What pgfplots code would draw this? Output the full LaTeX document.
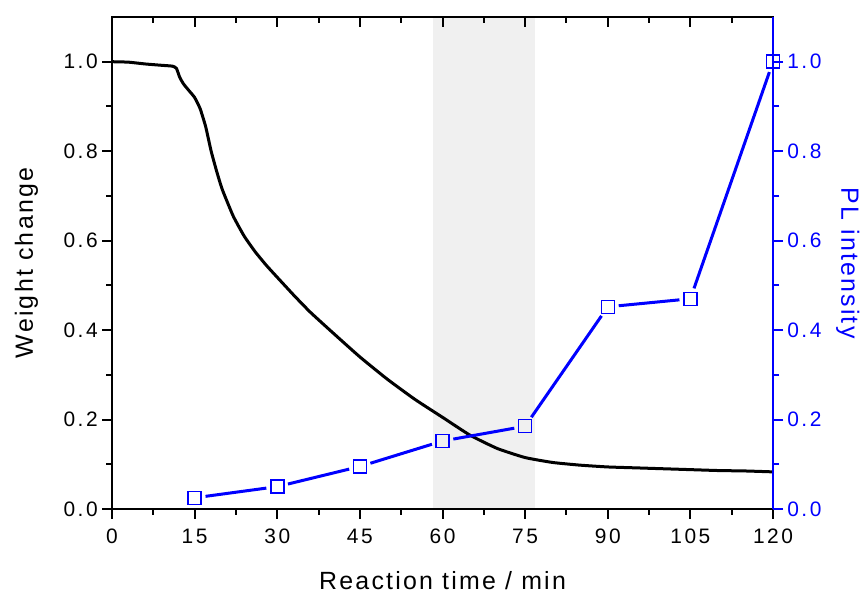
\documentclass[border=0pt]{standalone}
\usepackage{pgfplots}
\pgfplotsset{compat=1.18}
\usepackage{fontspec}
\setmainfont{Liberation Sans}
\newfontfamily\tickfont[LetterSpace=12]{Liberation Sans}
\newfontfamily\labfont[LetterSpace=9]{Liberation Sans}
\definecolor{plblue}{RGB}{0,0,255}
\definecolor{bandgray}{RGB}{240,240,240}
\begin{document}
\begin{tikzpicture}[x=1bp,y=1bp]
\path[use as bounding box] (0,0) rectangle (867,595);
\pgfplotsset{
  every axis/.append style={
    scale only axis, width=661bp, height=492bp,
    at={(112bp,86bp)}, anchor=south west,
    xmin=0, xmax=120, ymin=0, ymax=1.1,
    line width=2bp,
    every tick/.style={line width=2bp},
    major tick length=10bp, minor tick length=6bp,
    /pgf/number format/assume math mode=true,
    tick label style={font=\tickfont\fontsize{21}{24}\selectfont},
    label style={font=\labfont\fontsize{25}{28}\selectfont},
  }
}
\begin{axis}[
  axis on top,
  tick align=outside,
  xtick={0,15,...,120}, minor x tick num=1,
  ytick={0,0.2,...,1.0}, minor y tick num=1,
  xtick pos=lower, ytick pos=left,
  yticklabel style={/pgf/number format/.cd, fixed, zerofill, precision=1},
  xticklabel style={yshift=-6bp},
  xlabel={Reaction time / min}, ylabel={Weight change},
  xlabel style={yshift=-20bp},
  ylabel style={yshift=18bp},
]
\fill[bandgray] (axis cs:58.3,0) rectangle (axis cs:76.8,1.1);
\addplot[black, line width=3bp, smooth, tension=0.3] coordinates {
(0,1.0)(3,0.999)(6,0.995)(9,0.992)(11,0.99)(11.7,0.985)(12.3,0.965)(13,0.95)(14,0.935)(15,0.92)(16,0.895)(17,0.855)(18,0.80)(19,0.755)(20,0.715)(22,0.655)(24,0.61)(26,0.575)(28,0.545)(30,0.518)(33,0.478)(36,0.44)(40,0.395)(45,0.34)(50,0.29)(55,0.245)(60,0.205)(65,0.165)(70,0.135)(75,0.115)(80,0.104)(85,0.098)(90,0.094)(95,0.092)(100,0.09)(105,0.088)(110,0.086)(115,0.085)(120,0.083)
};
\end{axis}
% top ticks pointing inward
\begin{axis}[
  tick align=inside,
  xtick={0,15,...,120}, minor x tick num=1,
  xtick pos=upper, ytick=\empty,
  xticklabel=\empty,
  axis line style={draw=none},
]
\end{axis}
\begin{axis}[
  axis x line=none, axis y line*=right,
  tick align=outside,
  ytick={0,0.2,...,1.0}, minor y tick num=1,
  yticklabel style={color=plblue, /pgf/number format/.cd, fixed, zerofill, precision=1},
  ylabel={PL intensity},
  ylabel style={rotate=180, color=plblue, yshift=7bp},
  y axis line style={plblue}, every tick/.append style={plblue},
  every outer y axis line/.append style={plblue},
  clip=false,
]
\pgfplotsset{segstyle/.style={plblue, line width=3bp, shorten <=11bp, shorten >=11bp, forget plot}}
\addplot[segstyle] coordinates {(15,0.025)(30,0.05)};
\addplot[segstyle] coordinates {(30,0.05)(45,0.095)};
\addplot[segstyle] coordinates {(45,0.095)(60,0.152)};
\addplot[segstyle] coordinates {(60,0.152)(75,0.185)};
\addplot[segstyle] coordinates {(75,0.185)(90,0.452)};
\addplot[segstyle] coordinates {(90,0.452)(105,0.47)};
\addplot[segstyle] coordinates {(105,0.47)(120,1.0)};
\addplot[only marks, plblue, mark=square, mark size=6.5bp,
  mark options={solid, fill=white, line width=1.5bp}] coordinates {
(15,0.025)(30,0.05)(45,0.095)(60,0.152)(75,0.185)(90,0.452)(105,0.47)(120,1.0)
};
\end{axis}
\end{tikzpicture}
\end{document}
